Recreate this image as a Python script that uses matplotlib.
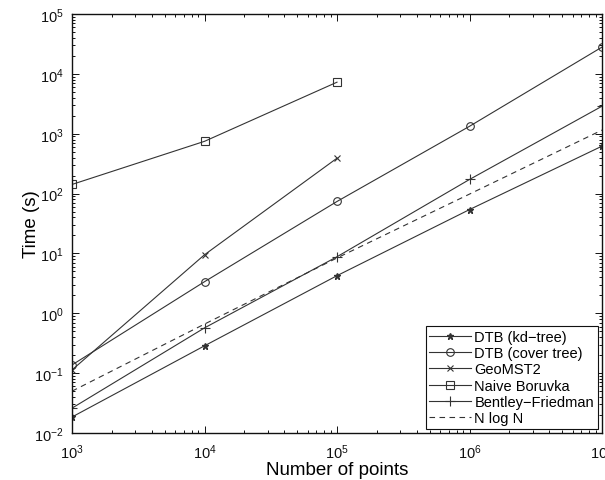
import matplotlib
matplotlib.use("Agg")
import matplotlib.pyplot as plt
from matplotlib.ticker import LogLocator, NullFormatter

plt.rcParams['font.family'] = ['Liberation Sans', 'DejaVu Sans']
plt.rcParams['mathtext.fontset'] = 'custom'
plt.rcParams['mathtext.rm'] = 'Liberation Sans'
plt.rcParams['mathtext.it'] = 'Liberation Sans:italic'
plt.rcParams['mathtext.bf'] = 'Liberation Sans:bold'

# Dataset sizes and run times (seconds)
n_points = [1e3, 1e4, 1e5, 1e6, 1e7]
dtb_kdtree = [0.0185, 0.286, 4.25, 54, 620]
dtb_cover = [0.137, 3.37, 73.8, 1330, 28000]
geomst2_n = [1e3, 1e4, 1e5]
geomst2 = [0.113, 9.5, 390]
boruvka_n = [1e3, 1e4, 1e5]
naive_boruvka = [142, 746, 7260]
bentley_friedman = [0.026, 0.57, 8.8, 172, 2880]
nlogn = [0.05, 0.66, 8.4, 98, 1150]

fig = plt.figure(figsize=(6.05, 4.81), dpi=100)
ax = fig.add_axes([72 / 605, 1 - 434 / 481, 530 / 605, 419 / 481])

lw = 0.8
col = '#333333'
ax.plot(n_points, dtb_kdtree, '-*', color=col, lw=lw, ms=5, label='DTB (kd\u2212tree)')
ax.plot(n_points, dtb_cover, '-o', color=col, lw=lw, ms=5.5, mfc='none', mew=0.8,
        label='DTB (cover tree)')
ax.plot(geomst2_n, geomst2, '-x', color=col, lw=lw, ms=4, mew=0.8, label='GeoMST2')
ax.plot(boruvka_n, naive_boruvka, '-s', color=col, lw=lw, ms=5.5, mfc='none', mew=0.8,
        label='Naive Boruvka')
ax.plot(n_points, bentley_friedman, '-+', color=col, lw=lw, ms=7, mew=0.8,
        label='Bentley\u2212Friedman')
ax.plot(n_points, nlogn, '--', color=col, lw=lw, dashes=(5, 4), label='N log N')

ax.set_xscale('log')
ax.set_yscale('log')
ax.set_xlim(1e3, 1e7)
ax.set_ylim(1e-2, 1e5)

ax.xaxis.set_major_locator(LogLocator(base=10, numticks=10))
ax.yaxis.set_major_locator(LogLocator(base=10, numticks=10))
ax.xaxis.set_minor_locator(LogLocator(base=10, subs=range(2, 10), numticks=100))
ax.yaxis.set_minor_locator(LogLocator(base=10, subs=range(2, 10), numticks=100))
ax.xaxis.set_minor_formatter(NullFormatter())
ax.yaxis.set_minor_formatter(NullFormatter())

ax.tick_params(which='both', direction='in', top=True, right=True, colors='#111111',
               labelsize=10.5, width=0.7)
ax.tick_params(which='major', length=5)
ax.tick_params(axis='x', which='major', pad=7)
ax.tick_params(axis='y', which='major', pad=6)
ax.tick_params(which='minor', length=2.5)
for s in ax.spines.values():
    s.set_linewidth(1.0)
    s.set_color('#111111')

ax.set_xlabel('Number of points', fontsize=13.5, labelpad=0)
ax.set_ylabel('Time (s)', fontsize=13.5, labelpad=-4)

leg = ax.legend(loc='lower right', fontsize=10.5, handlelength=2.9, handletextpad=0.2,
                labelspacing=0.15, borderpad=0.25, borderaxespad=0.3,
                fancybox=False, framealpha=1, edgecolor='#111111')
leg.get_frame().set_linewidth(0.8)

fig.savefig('out.png', dpi=100)
